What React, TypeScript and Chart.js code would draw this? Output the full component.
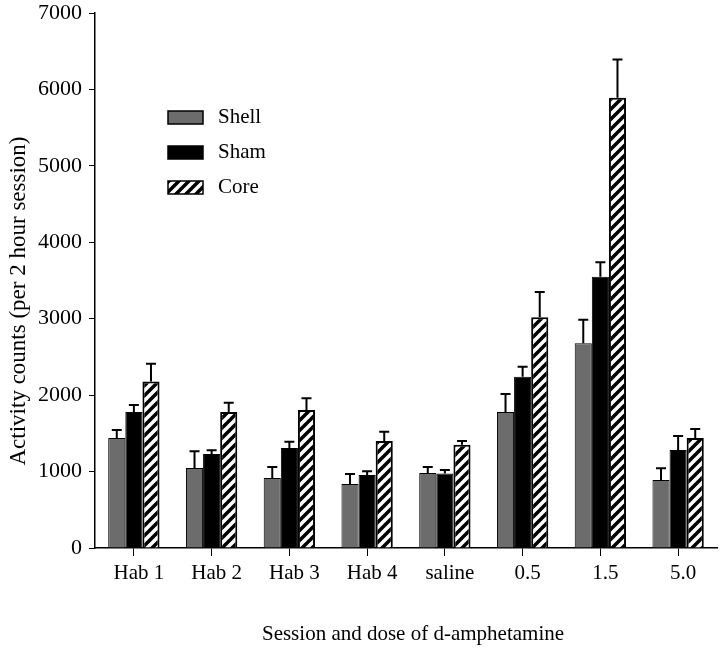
import { useEffect, useRef } from 'react';
import { Chart, registerables } from 'chart.js';
Chart.register(...registerables);

const categories = ['Hab 1', 'Hab 2', 'Hab 3', 'Hab 4', 'saline', '0.5', '1.5', '5.0'];
const shellValues = [1440, 1047, 916, 837, 981, 1780, 2680, 890];
const shellSem = [105, 220, 145, 130, 80, 235, 305, 155];
const shamValues = [1780, 1230, 1310, 955, 975, 2240, 3550, 1282];
const shamSem = [90, 50, 80, 50, 45, 130, 190, 183];
const coreValues = [2180, 1780, 1805, 1400, 1350, 3020, 5890, 1440];
const coreSem = [230, 120, 155, 120, 50, 330, 500, 117];
const yTicks = [0, 1000, 2000, 3000, 4000, 5000, 6000, 7000];
const xTitle = 'Session and dose of d-amphetamine';
const yTitle = 'Activity counts (per 2 hour session)';

const FONT = "'Liberation Serif', 'Times New Roman', serif";

function makeHatch(): CanvasPattern | string {
  const c = document.createElement('canvas');
  c.width = 10;
  c.height = 10;
  const g = c.getContext('2d');
  if (!g) return '#fff';
  g.fillStyle = '#fff';
  g.fillRect(0, 0, 10, 10);
  g.strokeStyle = '#000';
  g.lineWidth = 3.5;
  g.beginPath();
  g.moveTo(-2, 12); g.lineTo(12, -2);
  g.moveTo(-2, 2); g.lineTo(2, -2);
  g.moveTo(8, 12); g.lineTo(12, 8);
  g.stroke();
  return g.createPattern(c, 'repeat') || '#fff';
}

export default function App() {
  const ref = useRef<HTMLCanvasElement>(null);
  useEffect(() => {
    if (!ref.current) return;
    const hatch = makeHatch();
    const sems = [shellSem, shamSem, coreSem];

    const errorBars = {
      id: 'errorBars',
      afterDatasetsDraw(chart: any) {
        const { ctx } = chart;
        const y = chart.scales.y;
        ctx.save();
        ctx.strokeStyle = '#000';
        ctx.lineWidth = 2;
        chart.data.datasets.forEach((ds: any, di: number) => {
          const meta = chart.getDatasetMeta(di);
          meta.data.forEach((el: any, i: number) => {
            const top = y.getPixelForValue(ds.data[i] + sems[di][i]);
            ctx.beginPath();
            ctx.moveTo(el.x, el.y);
            ctx.lineTo(el.x, top);
            ctx.moveTo(el.x - 5, top);
            ctx.lineTo(el.x + 5, top);
            ctx.stroke();
          });
        });
        ctx.restore();
      },
    };

    const titlesAndLegend = {
      id: 'titlesAndLegend',
      afterDraw(chart: any) {
        const { ctx, chartArea } = chart;
        ctx.save();
        ctx.fillStyle = '#000';
        ctx.textAlign = 'center';
        ctx.textBaseline = 'middle';
        // x title
        ctx.font = `21px ${FONT}`;
        ctx.fillText(xTitle, chartArea.left + 318, chartArea.bottom + 86);
        // y title
        ctx.save();
        ctx.translate(19, chartArea.bottom - 247);
        ctx.rotate(-Math.PI / 2);
        ctx.font = `23px ${FONT}`;
        ctx.fillText(yTitle, 0, 0);
        ctx.restore();
        // legend
        const x0 = chartArea.left + 73;
        const rows = [117, 152, 187];
        ctx.font = `21px ${FONT}`;
        ctx.textAlign = 'left';
        chart.data.datasets.forEach((ds: any, i: number) => {
          const cy = rows[i];
          ctx.fillStyle = ds.backgroundColor;
          ctx.fillRect(x0, cy - 6, 35, 13);
          ctx.strokeStyle = '#000';
          ctx.lineWidth = 1.5;
          ctx.strokeRect(x0, cy - 6, 35, 13);
          ctx.fillStyle = '#000';
          ctx.fillText(ds.label, x0 + 50, cy);
        });
        ctx.restore();
      },
    };

    const chart = new Chart(ref.current, {
      type: 'bar',
      data: {
        labels: categories,
        datasets: [
          { label: 'Shell', data: shellValues, backgroundColor: '#6c6c6c', borderColor: '#000', borderWidth: 1 },
          { label: 'Sham', data: shamValues, backgroundColor: '#000', borderColor: '#000', borderWidth: 1 },
          { label: 'Core', data: coreValues, backgroundColor: hatch as any, borderColor: '#000', borderWidth: 2 },
        ],
      },
      options: {
        responsive: false,
        animation: false,
        layout: { padding: { top: 13, right: 3, left: 0, bottom: 0 } },
        datasets: { bar: { barPercentage: 1, categoryPercentage: 0.66 } },
        plugins: { legend: { display: false }, tooltip: { enabled: false } },
        scales: {
          x: {
            grid: { display: true, drawOnChartArea: false, drawTicks: true, tickLength: 8, offset: false, color: '#000' },
            border: { display: true, color: '#000', width: 1.5 },
            ticks: { color: '#000', font: { family: FONT, size: 21 }, padding: 5, maxRotation: 0, labelOffset: 5 },
            title: { display: false },
            afterFit: (s: any) => { s.height = 100; },
          },
          y: {
            min: 0,
            max: 7000,
            afterBuildTicks: (s: any) => { s.ticks = yTicks.map((v) => ({ value: v })); },
            grid: { display: true, drawOnChartArea: false, drawTicks: true, tickLength: 6, color: '#000' },
            border: { display: true, color: '#000', width: 1.5 },
            ticks: { color: '#000', font: { family: FONT, size: 22 }, padding: 7, callback: (v: any) => String(v) },
            title: { display: false },
            afterFit: (s: any) => { s.width = 95; s.paddingTop = 0; s.paddingBottom = 0; },
          },
        },
      },
      plugins: [errorBars, titlesAndLegend],
    });
    return () => chart.destroy();
  }, []);

  return (
    <div style={{ position: 'absolute', left: 0, top: 0, width: 720, height: 648, background: '#fff' }}>
      <canvas ref={ref} width={720} height={648} />
    </div>
  );
}
